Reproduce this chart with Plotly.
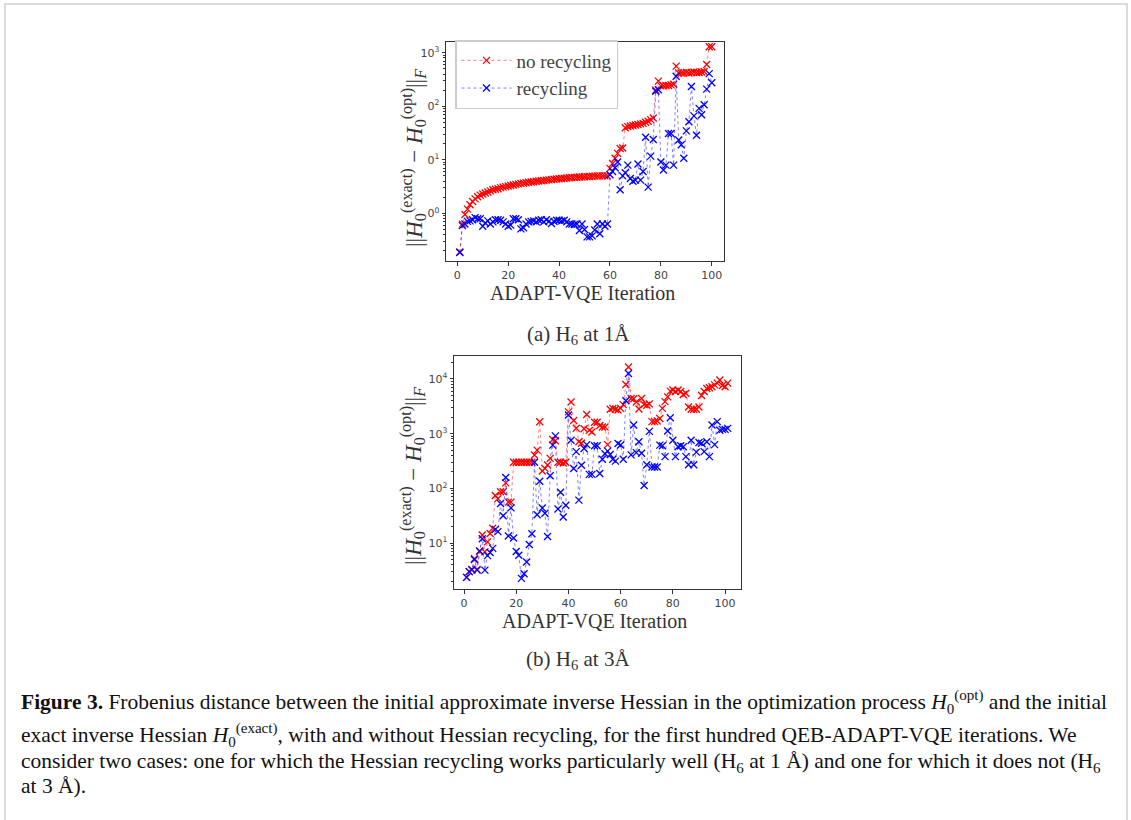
import plotly.graph_objects as go

# ---------------- data ----------------
# (a) H6 at 1 Angstrom
no_recycling_1A = [0.19, 0.63, 0.955, 1.2, 1.45, 1.66, 1.86, 2.04, 2.19, 2.29,
                   2.40, 2.51, 2.63, 2.75, 2.82, 2.88, 3.02, 3.09, 3.16, 3.24,
                   3.31, 3.39, 3.47, 3.55, 3.63, 3.67, 3.72, 3.80, 3.85, 3.89,
                   3.98, 4.03, 4.07, 4.12, 4.17, 4.22, 4.27, 4.32, 4.37, 4.42,
                   4.47, 4.52, 4.57, 4.62, 4.68, 4.70, 4.73, 4.76, 4.79, 4.82,
                   4.85, 4.89, 4.92, 4.95, 4.99, 5.01, 5.01, 5.01, 5.01, 6.92,
                   8.51, 10.7, 13.2, 16.2, 16.6, 39.8, 41.7, 42.7, 43.7, 44.7,
                   45.7, 46.8, 47.9, 50.1, 52.5, 56.2, 60.3, 200, 295, 240,
                   240, 245, 245, 251, 257, 562, 417, 417, 417, 427,
                   417, 427, 437, 427, 427, 437, 447, 603, 1290, 1290]
recycling_1A = [0.186, 0.589, 0.631, 0.708, 0.724, 0.759, 0.832, 0.794, 0.794, 0.575,
                0.661, 0.724, 0.631, 0.692, 0.759, 0.759, 0.741, 0.692, 0.631, 0.575,
                0.603, 0.794, 0.794, 0.759, 0.513, 0.537, 0.631, 0.692, 0.708, 0.724,
                0.692, 0.741, 0.759, 0.692, 0.759, 0.708, 0.646, 0.708, 0.741, 0.741,
                0.724, 0.741, 0.692, 0.631, 0.631, 0.617, 0.631, 0.479, 0.631, 0.501,
                0.363, 0.363, 0.380, 0.490, 0.631, 0.417, 0.631, 0.575, 0.631, 5.25,
                6.03, 7.08, 9.12, 2.75, 5.01, 5.75, 7.94, 4.47, 3.98, 4.17,
                8.32, 4.17, 6.03, 26.3, 3.09, 11.7, 24.0, 191, 204, 9.12,
                6.46, 7.94, 30.9, 30.9, 7.94, 363, 23.4, 19.1, 10.7, 34.7,
                51.3, 234, 66.1, 28.8, 91.2, 69.2, 107, 209, 407, 275]
iterations_1A = list(range(1, len(no_recycling_1A) + 1))

# (b) H6 at 3 Angstrom
no_recycling_3A = [2.36, 3.0, 3.2, 5.2, 3.3, 7.0, 14, 6.9, 10.5, 15,
                   18.6, 74, 65, 87, 87, 126, 56, 56, 300, 300,
                   300, 300, 300, 300, 300, 300, 406, 500, 1650, 207,
                   232, 267, 353, 780, 740, 300, 300, 290, 300, 2500,
                   3800, 1740, 1260, 714, 670, 1230, 2240, 1150, 1070, 1620,
                   1620, 1410, 1320, 1320, 630, 2800, 2900, 2800, 2700, 2900,
                   3400, 7900, 16600, 4400, 4360, 3800, 2820, 4400, 3400, 3300,
                   3500, 1660, 1660, 1700, 1900, 2900, 3850, 4700, 6000, 6300,
                   5900, 6300, 5900, 5200, 5500, 3080, 2800, 2800, 2800, 3080,
                   5000, 5900, 6700, 6900, 7200, 7800, 8400, 9600, 7600, 7200,
                   8400]
recycling_3A = [2.36, 3.0, 3.3, 5.0, 3.2, 7.2, 12, 3.2, 5.9, 6.7,
                8.0, 17.8, 16.2, 53, 31.6, 158, 13.5, 44, 12.4, 7.0,
                6.0, 2.26, 2.75, 4.5, 9.4, 14.8, 300, 33, 135, 43.7,
                35, 13.2, 170, 617, 910, 42, 85, 30, 49, 2200,
                760, 230, 470, 61, 265, 535, 630, 180, 180, 600,
                600, 187, 340, 430, 480, 415, 340, 315, 660, 620,
                340, 4000, 12600, 410, 1440, 450, 710, 440, 113, 270,
                1100, 245, 245, 245, 617, 600, 380, 1120, 1950, 760,
                380, 575, 600, 575, 380, 270, 760, 270, 460, 690,
                670, 470, 710, 380, 1440, 630, 1660, 1150, 1200, 1200,
                1250]
iterations_3A = list(range(1, len(no_recycling_3A) + 1))

series_names = ["no recycling", "recycling"]
x_ticks = [0, 20, 40, 60, 80, 100]
y_ticks_a = [1, 10, 100, 1000]
y_ticklabels_a = ["0<sup>0</sup>", "0<sup>1</sup>", "0<sup>2</sup>", "10<sup>3</sup>"]
y_ticks_b = [10, 100, 1000, 10000]
y_ticklabels_b = ["10<sup>1</sup>", "10<sup>2</sup>", "10<sup>3</sup>", "10<sup>4</sup>"]

# ---------------- layout helpers ----------------
W, H = 1131, 820


def fx(px):
    return px / W


def fy(py):
    return 1 - py / H


SERIF = "Liberation Serif"
SANS = "DejaVu Sans"
RED = "#ff0000"
BLUE = "#0000ff"

fig = go.Figure()


def add_series(x, y, color, line_rgba, name, xa, ya, showlegend):
    fig.add_trace(go.Scatter(
        x=x, y=y, mode="lines+markers", name=name, xaxis=xa, yaxis=ya,
        showlegend=showlegend,
        line=dict(color=line_rgba, width=1, dash="dot"),
        marker=dict(symbol="x-thin", size=7, color=color,
                    line=dict(color=color, width=1.3)),
    ))


add_series(iterations_1A, no_recycling_1A, RED, "rgba(255,0,0,0.5)", series_names[0], "x", "y", True)
add_series(iterations_1A, recycling_1A, BLUE, "rgba(0,0,255,0.5)", series_names[1], "x", "y", True)
add_series(iterations_3A, no_recycling_3A, RED, "rgba(255,0,0,0.5)", series_names[0], "x2", "y2", False)
add_series(iterations_3A, recycling_3A, BLUE, "rgba(0,0,255,0.5)", series_names[1], "x2", "y2", False)

minor_vals = [m * 10 ** e for e in range(-2, 6) for m in range(2, 10)]

axis_common = dict(showline=True, mirror=True, linecolor="#333", linewidth=1,
                   ticks="outside", ticklen=3.5, tickcolor="#333", tickwidth=1,
                   showgrid=False, zeroline=False,
                   tickfont=dict(family=SANS, size=11, color="#444"))

fig.update_layout(
    width=W, height=H,
    margin=dict(l=0, r=0, t=0, b=0),
    paper_bgcolor="white", plot_bgcolor="white",
    xaxis=dict(domain=[fx(446), fx(724)], range=[-4.44, 104.8], anchor="y",
               tickmode="array", tickvals=x_ticks, **axis_common),
    yaxis=dict(domain=[fy(261), fy(42)], type="log", range=[-0.89, 3.2], anchor="x",
               tickmode="array", tickvals=y_ticks_a, ticktext=y_ticklabels_a,
               minor=dict(ticks="outside", ticklen=2, tickcolor="#333",
                          tickmode="array", tickvals=minor_vals, showgrid=False),
               **axis_common),
    xaxis2=dict(domain=[fx(454), fx(741)], range=[-3.83, 106.1], anchor="y2",
                tickmode="array", tickvals=x_ticks, **axis_common),
    yaxis2=dict(domain=[fy(589), fy(356)], type="log", range=[0.16, 4.42], anchor="x2",
                tickmode="array", tickvals=y_ticks_b, ticktext=y_ticklabels_b,
                minor=dict(ticks="outside", ticklen=2, tickcolor="#333",
                           tickmode="array", tickvals=minor_vals, showgrid=False),
                **axis_common),
    legend=dict(x=fx(455), y=fy(40), xanchor="left", yanchor="top",
                bgcolor="white", bordercolor="#cccccc", borderwidth=1.5,
                font=dict(family=SERIF, size=19, color="#444"),
                itemwidth=50, tracegroupgap=0),
    showlegend=True,
)

ylabel = ("||<i>H</i><sub>0</sub><sup>(exact)</sup> \u2212 "
          "<i>H</i><sub>0</sub><sup>(opt)</sup>||<sub><i>F</i></sub>")

annotations = [
    dict(text=ylabel, x=fx(414), y=fy(158), textangle=-90, size=23),
    dict(text=ylabel, x=fx(413), y=fy(476), textangle=-90, size=23),
    dict(text="ADAPT-VQE Iteration", x=fx(582), y=fy(293), size=20),
    dict(text="ADAPT-VQE Iteration", x=fx(594), y=fy(621), size=20),
    dict(text="(a) H<sub>6</sub> at 1Å", x=fx(578), y=fy(335), size=21),
    dict(text="(b) H<sub>6</sub> at 3Å", x=fx(578), y=fy(660), size=21),
]
for a in annotations:
    size = a.pop("size")
    fig.add_annotation(xref="paper", yref="paper", showarrow=False,
                       xanchor="center", yanchor="middle",
                       font=dict(family=SERIF, size=size, color="#333"), **a)

caption_lines = [
    ("<b>Figure 3.</b> Frobenius distance between the initial approximate inverse Hessian "
     "in the optimization process <i>H</i><sub>0</sub><sup>(opt)</sup> and the initial", 702),
    ("exact inverse Hessian <i>H</i><sub>0</sub><sup>(exact)</sup>, with and without Hessian "
     "recycling, for the first hundred QEB-ADAPT-VQE iterations. We", 735),
    ("consider two cases: one for which the Hessian recycling works particularly well "
     "(H<sub>6</sub> at 1 Å) and one for which it does not (H<sub>6</sub>", 762),
    ("at 3 Å).", 786),
]
for txt, ypx in caption_lines:
    fig.add_annotation(xref="paper", yref="paper", showarrow=False,
                       x=fx(19), y=fy(ypx), xanchor="left", yanchor="middle",
                       text=txt, font=dict(family=SERIF, size=21.5, color="#111"))

# page frame
fig.add_shape(type="rect", xref="paper", yref="paper",
              x0=fx(5), x1=fx(1127), y0=-0.05, y1=fy(4),
              line=dict(color="#cfcfcf", width=1.5), fillcolor="rgba(0,0,0,0)")

fig.write_html("out.html", config={"displayModeBar": False},
               post_script="document.body.style.margin='0';")
